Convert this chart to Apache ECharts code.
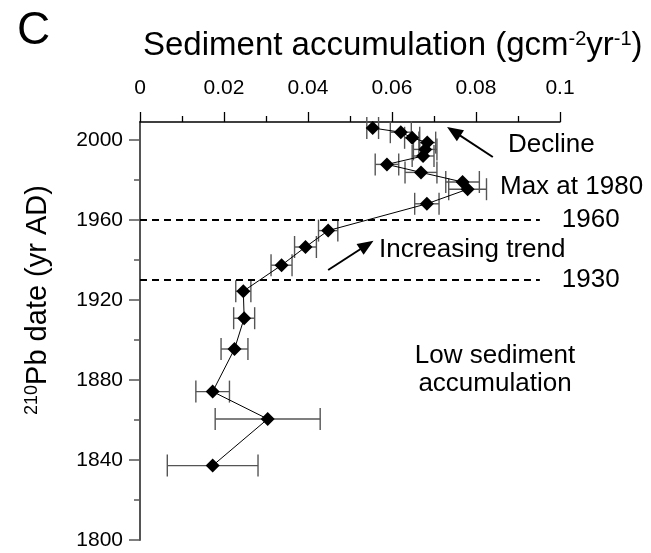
<!DOCTYPE html>
<html>
<head>
<meta charset="utf-8">
<title>Sediment accumulation</title>
<style>
  * { margin: 0; padding: 0; box-sizing: border-box; }
  html, body, #chart { width: 100%; height: 100%; overflow: hidden; background: #fff; }
</style>
</head>
<body>
<div id="chart"></div>
<script src="https://cdn.jsdelivr.net/npm/echarts@6/dist/echarts.min.js"></script>
<script>
// 210Pb dates (yr AD) and sediment accumulation (g cm-2 yr-1)
var years = [2006.0, 2003.9, 2001.1, 1998.7, 1995.3, 1992.0, 1987.8, 1983.8, 1979.0, 1975.4,
             1968.1, 1954.7, 1946.5, 1937.4, 1924.4, 1910.9, 1895.5, 1874.2, 1860.5, 1837.2];
var accum = [0.0554, 0.0621, 0.0648, 0.0684, 0.0679, 0.0674, 0.0588, 0.0669, 0.0768, 0.0780,
             0.0683, 0.0448, 0.0394, 0.0337, 0.0246, 0.0248, 0.0225, 0.0173, 0.0304, 0.0173];
var accumErr = [0.0014, 0.0025, 0.0018, 0.0020, 0.0028, 0.0026, 0.0028, 0.0038, 0.0040, 0.0045,
                0.0029, 0.0023, 0.0026, 0.0025, 0.0018, 0.0025, 0.0032, 0.0040, 0.0125, 0.0108];

var yLabelYears = [1800, 1840, 1880, 1920, 1960, 2000];
var yMinorYears = [1820, 1860, 1900, 1940, 1980];
var refYears = [1960, 1930];
// arrows: [fromX, fromY, toX, toY] in data units
var declineArrow = [0.0840, 1991.5, 0.0747, 2004.3];
var increaseArrow = [0.0448, 1935.0, 0.0540, 1947.5];

var FONT = '"Liberation Sans", Arial, Helvetica, sans-serif';
var chart = echarts.init(document.getElementById('chart'));

var points = years.map(function (y, i) { return [accum[i], y]; });
var bars = years.map(function (y, i) { return [accum[i] - accumErr[i], accum[i] + accumErr[i], y]; });

function renderErrorBar(params, api) {
    var lo = api.coord([api.value(0), api.value(2)]);
    var hi = api.coord([api.value(1), api.value(2)]);
    var h = 11;
    var st = { stroke: '#555', lineWidth: 1.4 };
    return {
        type: 'group',
        children: [
            { type: 'line', shape: { x1: lo[0], y1: lo[1], x2: hi[0], y2: hi[1] }, style: st },
            { type: 'line', shape: { x1: lo[0], y1: lo[1] - h, x2: lo[0], y2: lo[1] + h }, style: st },
            { type: 'line', shape: { x1: hi[0], y1: hi[1] - h, x2: hi[0], y2: hi[1] + h }, style: st }
        ]
    };
}

function arrowLine(a) {
    return [
        { coord: [a[0], a[1]], symbol: 'none', lineStyle: { type: 'solid', width: 2, color: '#000' }, label: { show: false } },
        { coord: [a[2], a[3]], symbol: 'triangle', symbolSize: [13, 16] }
    ];
}

var markData = refYears.map(function (y) {
    return [
        { coord: [0, y], name: String(y), symbol: 'none' },
        { coord: [0.0952, y], symbol: 'none' }
    ];
});
markData.push(arrowLine(declineArrow));
markData.push(arrowLine(increaseArrow));

var option = {
    animation: false,
    grid: { left: 140, right: 91, top: 122, bottom: 13 },
    xAxis: {
        type: 'value',
        position: 'top',
        min: 0,
        max: 0.1,
        interval: 0.02,
        axisLine: { lineStyle: { color: '#000', width: 1.5 } },
        axisTick: { length: 10, lineStyle: { color: '#000', width: 1.3 } },
        minorTick: { show: true, splitNumber: 2, length: 6, lineStyle: { color: '#000', width: 1.3 } },
        splitLine: { show: false },
        axisLabel: { fontSize: 21, color: '#000', fontFamily: FONT, margin: 23 }
    },
    yAxis: [{
        type: 'value',
        position: 'left',
        min: 1800,
        max: 2009,
        interval: 40,
        axisLine: { lineStyle: { color: '#555', width: 2 } },
        axisTick: { length: 11, customValues: yLabelYears, lineStyle: { color: '#555', width: 1.5 } },
        splitLine: { show: false },
        axisLabel: {
            customValues: yLabelYears, fontSize: 21, color: '#000', fontFamily: FONT, margin: 17,
            formatter: function (v) { return String(v); }
        }
    }, {
        type: 'value',
        position: 'left',
        min: 1800,
        max: 2009,
        axisLine: { show: false },
        axisTick: { length: 6, customValues: yMinorYears, lineStyle: { color: '#555', width: 1.5 } },
        splitLine: { show: false },
        axisLabel: { show: false }
    }],
    graphic: [
        { type: 'text', left: 17, top: 8, style: { text: 'C', font: '46px ' + FONT, fill: '#000' } },
        {
            type: 'text', x: 143, y: 46,
            style: {
                text: 'Sediment accumulation (gcm{s|-2}yr{s|-1})',
                font: '33px ' + FONT, fill: '#000', verticalAlign: 'middle',
                rich: { s: { fontSize: 20, fontFamily: FONT, verticalAlign: 'top', fill: '#000' } }
            }
        },
        {
            type: 'text', x: 38, y: 300, rotation: Math.PI / 2,
            style: {
                text: '{s|210}Pb date (yr AD)',
                font: '29px ' + FONT, fill: '#000', align: 'center', verticalAlign: 'middle',
                rich: { s: { fontSize: 18, fontFamily: FONT, verticalAlign: 'top', fill: '#000' } }
            }
        },
        { type: 'text', x: 508, y: 145, style: { text: 'Decline', font: '26px ' + FONT, fill: '#000', verticalAlign: 'middle' } },
        { type: 'text', x: 500, y: 187, style: { text: 'Max at 1980', font: '26px ' + FONT, fill: '#000', verticalAlign: 'middle' } },
        { type: 'text', x: 379, y: 250, style: { text: 'Increasing trend', font: '26px ' + FONT, fill: '#000', verticalAlign: 'middle' } },
        { type: 'text', x: 495, y: 370, style: { text: 'Low sediment\naccumulation', font: '26px ' + FONT, fill: '#000', align: 'center', verticalAlign: 'middle', lineHeight: 28 } }
    ],
    series: [{
        type: 'custom',
        renderItem: renderErrorBar,
        encode: { x: [0, 1], y: 2 },
        data: bars,
        z: 1,
        silent: true
    }, {
        type: 'line',
        data: points,
        symbol: 'diamond',
        symbolSize: 14,
        itemStyle: { color: '#000' },
        lineStyle: { color: '#000', width: 1 },
        z: 3,
        markLine: {
            silent: true,
            symbol: ['none', 'none'],
            lineStyle: { type: [7, 5], width: 2, color: '#000' },
            label: { show: true, position: 'end', formatter: '{b}', fontSize: 26, color: '#000', fontFamily: FONT, distance: 22 },
            data: markData
        }
    }]
};

chart.setOption(option);
</script>
</body>
</html>
